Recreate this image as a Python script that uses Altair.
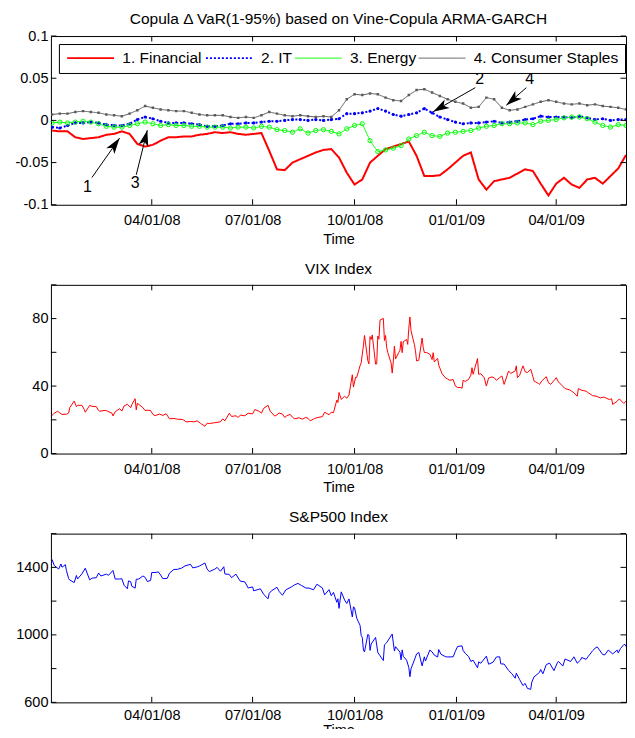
import altair as alt
import pandas as pd

FONT = "Liberation Sans"

# ---------------- top panel: weekly readings (Wednesdays from 2008-01-02) ----------------
series_names = ["1. Financial", "2. IT", "3. Energy", "4. Consumer Staples"]
series_colors = ["#ff0000", "#0000ff", "#00ff00", "#5a5a5a"]

financial = [-0.012, -0.013, -0.013, -0.020, -0.022, -0.021, -0.020, -0.017, -0.016, -0.013,
             -0.016, -0.028, -0.031, -0.029, -0.024, -0.020, -0.020, -0.019, -0.019, -0.017,
             -0.016, -0.014, -0.015, -0.014, -0.016, -0.017, -0.016, -0.015, -0.036, -0.058,
             -0.059, -0.050, -0.046, -0.042, -0.038, -0.035, -0.034, -0.044, -0.062, -0.076,
             -0.070, -0.050, -0.042, -0.034, -0.031, -0.028, -0.025, -0.042, -0.066, -0.066,
             -0.065, -0.058, -0.050, -0.042, -0.038, -0.070, -0.082, -0.072, -0.070, -0.068,
             -0.063, -0.058, -0.060, -0.075, -0.089, -0.075, -0.068, -0.076, -0.080, -0.070,
             -0.068, -0.075, -0.066, -0.057, -0.041]
it = [-0.008, -0.009, -0.006, -0.003, -0.003, -0.002, -0.003, -0.005, -0.006, -0.006,
      -0.004, 0.001, 0.004, 0.002, -0.001, -0.003, -0.003, -0.003, -0.004, -0.005,
      -0.007, -0.007, -0.006, -0.004, -0.004, -0.003, -0.003, -0.002, -0.001, -0.001,
      0.000, 0.001, 0.001, 0.000, 0.001, 0.000, 0.001, 0.002, 0.008, 0.008,
      0.009, 0.011, 0.014, 0.011, 0.007, 0.005, 0.007, 0.009, 0.014, 0.009,
      0.004, 0.001, -0.002, -0.004, -0.003, -0.003, -0.002, -0.001, -0.003, -0.002,
      -0.001, 0.001, 0.002, 0.005, 0.004, 0.004, 0.004, 0.003, 0.005, 0.003,
      0.001, 0.002, 0.000, 0.001, 0.001]
energy = [-0.003, -0.002, -0.003, -0.002, -0.001, -0.002, -0.004, -0.007, -0.008, -0.008,
          -0.006, -0.004, -0.002, -0.004, -0.006, -0.005, -0.006, -0.006, -0.007, -0.007,
          -0.008, -0.008, -0.008, -0.009, -0.008, -0.008, -0.009, -0.007, -0.008, -0.011,
          -0.012, -0.014, -0.010, -0.015, -0.012, -0.011, -0.013, -0.016, -0.010, -0.006,
          -0.004, -0.024, -0.037, -0.035, -0.033, -0.030, -0.022, -0.018, -0.014, -0.018,
          -0.019, -0.015, -0.014, -0.013, -0.012, -0.009, -0.007, -0.006, -0.004, -0.004,
          -0.003, -0.003, -0.005, -0.001, 0.000, 0.001, 0.003, 0.004, 0.004, 0.002,
          -0.002, -0.006, -0.008, -0.005, -0.006]
staples = [0.007, 0.008, 0.008, 0.010, 0.011, 0.010, 0.009, 0.007, 0.006, 0.005,
           0.008, 0.012, 0.017, 0.015, 0.013, 0.012, 0.011, 0.011, 0.009, 0.007,
           0.006, 0.006, 0.006, 0.004, 0.003, 0.004, 0.003, 0.006, 0.010, 0.008,
           0.006, 0.005, 0.006, 0.005, 0.004, 0.005, 0.004, 0.012, 0.025, 0.031,
           0.030, 0.032, 0.031, 0.027, 0.024, 0.023, 0.030, 0.036, 0.037, 0.033,
           0.029, 0.025, 0.022, 0.020, 0.015, 0.016, 0.027, 0.025, 0.015, 0.012,
           0.013, 0.016, 0.019, 0.022, 0.024, 0.022, 0.020, 0.019, 0.020, 0.018,
           0.019, 0.017, 0.016, 0.015, 0.013]

# ---------------- VIX close (date, value) ----------------
vix_points = [
    ("2008-01-02", 22.6), ("2008-01-04", 23.9), ("2008-01-07", 25.1), ("2008-01-09", 24.1),
    ("2008-01-11", 23.2), ("2008-01-15", 23.3), ("2008-01-17", 24.0), ("2008-01-18", 27.2),
    ("2008-01-22", 31.1), ("2008-01-24", 27.8), ("2008-01-25", 28.6), ("2008-01-29", 28.6),
    ("2008-01-31", 26.2), ("2008-02-01", 24.5), ("2008-02-05", 28.6), ("2008-02-07", 28.0),
    ("2008-02-11", 27.8), ("2008-02-13", 25.5), ("2008-02-14", 25.1), ("2008-02-19", 25.6),
    ("2008-02-21", 25.1), ("2008-02-25", 24.0), ("2008-02-26", 22.3), ("2008-02-28", 24.8),
    ("2008-03-03", 26.6), ("2008-03-05", 25.2), ("2008-03-07", 28.2), ("2008-03-10", 29.2),
    ("2008-03-13", 27.2), ("2008-03-14", 29.0), ("2008-03-17", 32.5), ("2008-03-18", 25.9),
    ("2008-03-19", 29.8), ("2008-03-24", 27.2), ("2008-03-26", 25.5), ("2008-03-28", 25.7),
    ("2008-03-31", 25.5), ("2008-04-02", 23.2), ("2008-04-04", 22.5), ("2008-04-08", 23.4),
    ("2008-04-11", 22.6), ("2008-04-14", 23.6), ("2008-04-17", 20.6), ("2008-04-21", 20.8),
    ("2008-04-24", 20.4), ("2008-04-29", 20.2), ("2008-05-02", 18.8), ("2008-05-06", 19.0),
    ("2008-05-09", 18.8), ("2008-05-12", 19.4), ("2008-05-15", 17.9), ("2008-05-19", 16.2),
    ("2008-05-21", 18.0), ("2008-05-23", 17.8), ("2008-05-28", 18.3), ("2008-06-02", 18.8),
    ("2008-06-04", 20.6), ("2008-06-06", 19.4), ("2008-06-10", 23.9), ("2008-06-12", 22.0),
    ("2008-06-16", 22.4), ("2008-06-18", 21.4), ("2008-06-20", 22.8), ("2008-06-24", 22.4),
    ("2008-06-27", 23.9), ("2008-07-01", 23.5), ("2008-07-03", 26.1), ("2008-07-07", 25.0),
    ("2008-07-09", 24.0), ("2008-07-11", 26.8), ("2008-07-15", 28.6), ("2008-07-17", 25.0),
    ("2008-07-21", 22.2), ("2008-07-23", 23.0), ("2008-07-25", 24.0), ("2008-07-28", 23.4),
    ("2008-07-30", 21.4), ("2008-08-01", 22.5), ("2008-08-04", 23.2), ("2008-08-06", 21.5),
    ("2008-08-08", 20.6), ("2008-08-12", 21.2), ("2008-08-15", 20.4), ("2008-08-18", 21.4),
    ("2008-08-20", 20.9), ("2008-08-22", 19.4), ("2008-08-26", 20.8), ("2008-08-29", 21.4),
    ("2008-09-02", 21.9), ("2008-09-04", 24.5), ("2008-09-08", 23.0), ("2008-09-10", 24.5),
    ("2008-09-12", 24.2), ("2008-09-15", 31.7), ("2008-09-16", 30.3), ("2008-09-17", 36.2),
    ("2008-09-19", 32.1), ("2008-09-22", 33.9), ("2008-09-24", 32.8), ("2008-09-26", 34.7),
    ("2008-09-29", 46.7), ("2008-09-30", 39.4), ("2008-10-02", 45.3), ("2008-10-03", 45.1),
    ("2008-10-06", 52.1), ("2008-10-07", 53.7), ("2008-10-09", 63.9), ("2008-10-10", 70.0),
    ("2008-10-13", 55.0), ("2008-10-14", 53.1), ("2008-10-15", 69.3), ("2008-10-16", 67.6),
    ("2008-10-17", 70.3), ("2008-10-20", 53.0), ("2008-10-21", 53.1), ("2008-10-22", 69.7),
    ("2008-10-23", 67.8), ("2008-10-24", 79.1), ("2008-10-27", 80.1), ("2008-10-28", 67.0),
    ("2008-10-29", 70.0), ("2008-10-30", 62.9), ("2008-10-31", 59.9), ("2008-11-03", 53.7),
    ("2008-11-04", 47.7), ("2008-11-05", 54.6), ("2008-11-06", 63.7), ("2008-11-07", 56.1),
    ("2008-11-10", 60.0), ("2008-11-11", 61.2), ("2008-11-12", 66.5), ("2008-11-13", 59.8),
    ("2008-11-14", 66.3), ("2008-11-17", 67.6), ("2008-11-18", 64.7), ("2008-11-19", 74.3),
    ("2008-11-20", 80.9), ("2008-11-21", 72.7), ("2008-11-24", 64.7), ("2008-11-25", 60.9),
    ("2008-11-26", 54.9), ("2008-11-28", 55.3), ("2008-12-01", 68.5), ("2008-12-02", 62.9),
    ("2008-12-03", 59.9), ("2008-12-05", 59.9), ("2008-12-08", 58.9), ("2008-12-10", 55.7),
    ("2008-12-11", 59.8), ("2008-12-12", 54.3), ("2008-12-15", 56.4), ("2008-12-16", 52.4),
    ("2008-12-19", 47.3), ("2008-12-22", 44.9), ("2008-12-24", 44.2), ("2008-12-26", 43.4),
    ("2008-12-29", 43.9), ("2008-12-31", 40.0),
    ("2009-01-02", 39.2), ("2009-01-05", 39.1), ("2009-01-06", 38.6), ("2009-01-07", 43.4),
    ("2009-01-09", 42.8), ("2009-01-12", 44.0), ("2009-01-14", 46.5), ("2009-01-15", 50.9),
    ("2009-01-16", 47.0), ("2009-01-20", 56.3), ("2009-01-21", 47.0), ("2009-01-23", 47.3),
    ("2009-01-26", 45.0), ("2009-01-28", 40.0), ("2009-01-30", 44.8), ("2009-02-02", 45.4),
    ("2009-02-04", 45.0), ("2009-02-06", 43.4), ("2009-02-09", 45.0), ("2009-02-11", 46.0),
    ("2009-02-13", 41.0), ("2009-02-17", 48.9), ("2009-02-19", 47.5), ("2009-02-23", 49.0),
    ("2009-02-24", 52.0), ("2009-02-25", 45.0), ("2009-02-27", 46.4), ("2009-03-02", 52.0),
    ("2009-03-04", 48.5), ("2009-03-06", 48.0), ("2009-03-09", 50.0), ("2009-03-11", 45.5),
    ("2009-03-12", 43.0), ("2009-03-16", 41.5), ("2009-03-17", 41.0), ("2009-03-19", 43.0),
    ("2009-03-23", 45.6), ("2009-03-25", 42.0), ("2009-03-27", 41.0), ("2009-03-31", 44.0),
    ("2009-04-01", 45.0), ("2009-04-03", 42.5), ("2009-04-06", 40.5), ("2009-04-09", 38.5),
    ("2009-04-13", 37.8), ("2009-04-15", 37.0), ("2009-04-17", 36.0), ("2009-04-20", 34.0),
    ("2009-04-21", 38.5), ("2009-04-24", 37.5), ("2009-04-28", 37.0), ("2009-04-30", 36.0),
    ("2009-05-04", 34.3), ("2009-05-07", 34.0), ("2009-05-11", 33.0), ("2009-05-14", 33.5),
    ("2009-05-19", 32.0), ("2009-05-21", 32.5), ("2009-05-22", 29.1), ("2009-05-26", 31.0),
    ("2009-05-28", 32.4), ("2009-06-01", 29.7), ("2009-06-03", 31.0),
]

# ---------------- S&P500 close (date, value) ----------------
spx_points = [
    ("2008-01-02", 1447), ("2008-01-04", 1411), ("2008-01-08", 1390), ("2008-01-10", 1420),
    ("2008-01-11", 1401), ("2008-01-14", 1416), ("2008-01-15", 1381), ("2008-01-17", 1333),
    ("2008-01-18", 1325), ("2008-01-22", 1310), ("2008-01-24", 1352), ("2008-01-25", 1331),
    ("2008-01-29", 1362), ("2008-02-01", 1395), ("2008-02-05", 1326), ("2008-02-07", 1336),
    ("2008-02-11", 1339), ("2008-02-13", 1367), ("2008-02-15", 1349), ("2008-02-20", 1360),
    ("2008-02-22", 1353), ("2008-02-26", 1382), ("2008-02-28", 1331), ("2008-03-03", 1331),
    ("2008-03-05", 1333), ("2008-03-07", 1294), ("2008-03-10", 1273), ("2008-03-11", 1320),
    ("2008-03-13", 1315), ("2008-03-14", 1288), ("2008-03-17", 1277), ("2008-03-18", 1330),
    ("2008-03-20", 1330), ("2008-03-24", 1349), ("2008-03-26", 1341), ("2008-03-28", 1316),
    ("2008-03-31", 1323), ("2008-04-01", 1370), ("2008-04-03", 1369), ("2008-04-07", 1373),
    ("2008-04-09", 1355), ("2008-04-11", 1333), ("2008-04-15", 1335), ("2008-04-17", 1366),
    ("2008-04-21", 1388), ("2008-04-24", 1388), ("2008-04-28", 1396), ("2008-05-01", 1409),
    ("2008-05-06", 1418), ("2008-05-08", 1397), ("2008-05-12", 1403), ("2008-05-14", 1408),
    ("2008-05-19", 1426), ("2008-05-21", 1390), ("2008-05-23", 1375), ("2008-05-28", 1390),
    ("2008-05-30", 1400), ("2008-06-02", 1377), ("2008-06-05", 1404), ("2008-06-06", 1361),
    ("2008-06-10", 1358), ("2008-06-12", 1339), ("2008-06-16", 1360), ("2008-06-18", 1337),
    ("2008-06-20", 1318), ("2008-06-24", 1314), ("2008-06-27", 1278), ("2008-07-01", 1284),
    ("2008-07-02", 1261), ("2008-07-08", 1273), ("2008-07-11", 1240), ("2008-07-15", 1214),
    ("2008-07-16", 1246), ("2008-07-18", 1261), ("2008-07-23", 1282), ("2008-07-25", 1257),
    ("2008-07-28", 1235), ("2008-07-31", 1267), ("2008-08-05", 1284), ("2008-08-08", 1297),
    ("2008-08-11", 1305), ("2008-08-14", 1293), ("2008-08-18", 1278), ("2008-08-21", 1277),
    ("2008-08-25", 1267), ("2008-08-28", 1300), ("2008-09-02", 1278), ("2008-09-04", 1237),
    ("2008-09-08", 1268), ("2008-09-10", 1232), ("2008-09-12", 1252), ("2008-09-15", 1193),
    ("2008-09-16", 1214), ("2008-09-17", 1157), ("2008-09-19", 1255), ("2008-09-22", 1207),
    ("2008-09-24", 1186), ("2008-09-26", 1213), ("2008-09-29", 1106), ("2008-09-30", 1166),
    ("2008-10-01", 1161), ("2008-10-03", 1099), ("2008-10-06", 1056), ("2008-10-07", 996),
    ("2008-10-08", 985), ("2008-10-09", 910), ("2008-10-10", 899), ("2008-10-13", 1003),
    ("2008-10-14", 998), ("2008-10-15", 908), ("2008-10-16", 946), ("2008-10-20", 985),
    ("2008-10-22", 896), ("2008-10-24", 876), ("2008-10-27", 848), ("2008-10-28", 941),
    ("2008-10-30", 954), ("2008-11-04", 1005), ("2008-11-05", 952), ("2008-11-06", 904),
    ("2008-11-07", 930), ("2008-11-11", 898), ("2008-11-12", 852), ("2008-11-13", 911),
    ("2008-11-14", 873), ("2008-11-17", 850), ("2008-11-19", 806), ("2008-11-20", 752),
    ("2008-11-21", 800), ("2008-11-24", 851), ("2008-11-26", 887), ("2008-11-28", 896),
    ("2008-12-01", 816), ("2008-12-03", 870), ("2008-12-04", 845), ("2008-12-08", 910),
    ("2008-12-10", 899), ("2008-12-12", 880), ("2008-12-15", 869), ("2008-12-16", 913),
    ("2008-12-18", 885), ("2008-12-22", 871), ("2008-12-24", 869), ("2008-12-29", 870),
    ("2008-12-31", 903),
    ("2009-01-02", 931), ("2009-01-06", 935), ("2009-01-07", 907), ("2009-01-09", 890),
    ("2009-01-12", 871), ("2009-01-14", 842), ("2009-01-16", 850), ("2009-01-20", 805),
    ("2009-01-21", 840), ("2009-01-23", 832), ("2009-01-28", 874), ("2009-01-30", 826),
    ("2009-02-03", 838), ("2009-02-06", 869), ("2009-02-09", 870), ("2009-02-10", 828),
    ("2009-02-13", 827), ("2009-02-17", 789), ("2009-02-20", 770), ("2009-02-23", 743),
    ("2009-02-24", 773), ("2009-02-27", 735), ("2009-03-02", 700), ("2009-03-04", 712),
    ("2009-03-06", 683), ("2009-03-09", 677), ("2009-03-10", 720), ("2009-03-12", 751),
    ("2009-03-17", 778), ("2009-03-18", 795), ("2009-03-20", 769), ("2009-03-23", 823),
    ("2009-03-26", 833), ("2009-03-30", 788), ("2009-04-02", 834), ("2009-04-03", 843),
    ("2009-04-07", 815), ("2009-04-09", 857), ("2009-04-14", 842), ("2009-04-17", 870),
    ("2009-04-20", 832), ("2009-04-23", 851), ("2009-04-24", 866), ("2009-04-28", 855),
    ("2009-04-30", 873), ("2009-05-04", 907), ("2009-05-06", 920), ("2009-05-08", 929),
    ("2009-05-13", 883), ("2009-05-15", 882), ("2009-05-18", 910), ("2009-05-22", 887),
    ("2009-05-26", 910), ("2009-05-27", 893), ("2009-05-29", 919), ("2009-06-01", 942),
    ("2009-06-02", 944), ("2009-06-03", 931),
]

# ---------------- annotations (arrow tip, arrow tail, label position) ----------------
arrow_labels = ["1", "3", "2", "4"]
arrow_tip_dates = ["2008-03-03", "2008-03-28", "2008-12-11", "2009-02-15"]
arrow_tip_values = [-0.021, -0.0116, 0.0104, 0.018]
arrow_tail_dates = ["2008-02-07", "2008-03-18", "2009-01-18", "2009-03-05"]
arrow_tail_values = [-0.0677, -0.0645, 0.0388, 0.0388]
label_dates = ["2008-02-03", "2008-03-17", "2009-01-22", "2009-03-08"]
label_values = [-0.0795, -0.0748, 0.0487, 0.0487]
arrow_angles = [35.7, 14.2, 240.4, 229.6]   # style: head rotation (deg, clockwise)

x_tick_dates = ["2008-04-01", "2008-07-01", "2008-10-01", "2009-01-01", "2009-04-01"]
top_yticks = [-0.1, -0.05, 0, 0.05, 0.1]
vix_yticks = [0, 20, 40, 60, 80, 100]
spx_yticks = [600, 800, 1000, 1200, 1400, 1600]

# ---------------- build tables ----------------
top_dates = pd.date_range("2008-01-02", periods=len(financial), freq="7D").strftime("%Y-%m-%d").tolist()
top_df = pd.concat([
    pd.DataFrame({"date": top_dates, "series": name, "value": vals})
    for name, vals in zip(series_names, [financial, it, energy, staples])
], ignore_index=True)
vix_df = pd.DataFrame(vix_points, columns=["date", "value"])
spx_df = pd.DataFrame(spx_points, columns=["date", "value"])
ann_df = pd.DataFrame({
    "date": arrow_tip_dates, "value": arrow_tip_values,
    "date2": arrow_tail_dates, "value2": arrow_tail_values,
    "ldate": label_dates, "lvalue": label_values,
    "label": arrow_labels, "angle": arrow_angles,
})
xtick_df = pd.DataFrame({"date": x_tick_dates})

W, H = 576, 169
TL = 5.5


def dt(s):
    t = pd.Timestamp(s)
    return alt.DateTime(year=t.year, month=t.month, date=t.day, utc=True)


xscale = alt.Scale(type="utc", domain=[dt("2008-01-01"), dt("2009-06-03")])


def x_axis(label_pad=8.5, title_pad=5.5):
    return alt.Axis(values=[dt(d) for d in x_tick_dates], format="%m/%d/%y", title="Time",
                    ticks=False, domain=False, grid=False, labelFont=FONT, labelFontSize=14.5,
                    labelColor="black", labelPadding=label_pad, labelFlush=False, labelOverlap=False,
                    titleFont=FONT, titleFontSize=14.5, titleFontWeight="normal",
                    titleColor="black", titlePadding=title_pad)


def y_axis(values, label_expr=None):
    kw = dict(values=values, title=None, ticks=False, domain=False, grid=False,
              labelFont=FONT, labelFontSize=14.5, labelColor="black", labelPadding=3,
              labelOverlap=False, labelFlush=False, minExtent=42.5, maxExtent=42.5)
    if label_expr:
        kw["labelExpr"] = label_expr
    else:
        kw["format"] = "d"
    return alt.Axis(**kw)


def frame_ticks(yvals):
    ydf = pd.DataFrame({"value": yvals})
    rule = dict(color="black", strokeWidth=1)
    return [
        alt.Chart(xtick_df).mark_rule(**rule).encode(x="date:T", y=alt.value(0), y2=alt.value(TL)),
        alt.Chart(xtick_df).mark_rule(**rule).encode(x="date:T", y=alt.value(H), y2=alt.value(H - TL)),
        alt.Chart(ydf).mark_rule(**rule).encode(y="value:Q", x=alt.value(0), x2=alt.value(TL)),
        alt.Chart(ydf).mark_rule(**rule).encode(y="value:Q", x=alt.value(W), x2=alt.value(W - TL)),
    ]


def panel_title(text, offset):
    return alt.TitleParams(text, font=FONT, fontSize=15.5, fontWeight="normal", color="black",
                           anchor="middle", offset=offset)


legend = alt.Legend(title=None, orient="none", legendX=8, legendY=8, direction="horizontal",
                    columns=4, symbolType="M-4.7,0L4.7,0", symbolSize=100, symbolOffset=18,
                    symbolStrokeWidth=alt.ExprRef("indexof(['1. Financial','2. IT'], datum.value) >= 0 ? 2 : 1"),
                    labelFont=FONT, labelFontSize=15.5, labelColor="black", labelOffset=24,
                    columnPadding=0, padding=6, strokeColor="black", fillColor="white",
                    labelLimit=400)

top_lines = alt.Chart(top_df).mark_line(clip=True).encode(
    x=alt.X("date:T", scale=xscale, axis=x_axis()),
    y=alt.Y("value:Q", scale=alt.Scale(domain=[-0.1, 0.1], nice=False, zero=False),
            axis=y_axis(top_yticks, "datum.value < 0 ? '-' + format(-datum.value, '~g') : format(datum.value, '~g')")),
    color=alt.Color("series:N", scale=alt.Scale(domain=series_names, range=series_colors), legend=legend),
    strokeDash=alt.StrokeDash("series:N", scale=alt.Scale(domain=series_names, range=[[1, 0], [2, 2], [1, 0], [1, 0]]), legend=legend),
    strokeWidth=alt.StrokeWidth("series:N", scale=alt.Scale(type="ordinal", domain=series_names, range=[2, 2, 1, 1]), legend=None),
)
it_pts = alt.Chart(top_df).transform_filter(alt.datum.series == "2. IT").mark_point(
    filled=True, size=10, color="#0000ff", opacity=1, clip=True).encode(x="date:T", y="value:Q")
en_pts = alt.Chart(top_df).transform_filter(alt.datum.series == "3. Energy").mark_point(
    filled=False, size=18, color="#00ff00", strokeWidth=1, opacity=1, clip=True).encode(x="date:T", y="value:Q")
cs_pts = alt.Chart(top_df).transform_filter(alt.datum.series == "4. Consumer Staples").mark_square(
    size=6, color="#5a5a5a", opacity=1, clip=True).encode(x="date:T", y="value:Q")

arrow_shafts = alt.Chart(ann_df).mark_rule(color="black", strokeWidth=1).encode(
    x="date:T", y="value:Q", x2="date2:T", y2="value2:Q")
arrow_heads = alt.Chart(ann_df).mark_point(
    shape="M0,0L0.5,1.6L0,1.2L-0.5,1.6Z", filled=True, size=400, color="black", opacity=1,
    strokeWidth=0).encode(x="date:T", y="value:Q", angle=alt.Angle("angle:Q", scale=None))
arrow_text = alt.Chart(ann_df).mark_text(font=FONT, fontSize=16, color="black", baseline="middle",
                                         align="center").encode(
    x="ldate:T", y="lvalue:Q", text="label:N")

top = alt.layer(top_lines, it_pts, en_pts, cs_pts, arrow_shafts, arrow_heads, arrow_text,
                *frame_ticks(top_yticks)).properties(
    width=W, height=H, title=panel_title("Copula \u0394 VaR(1-95%) based on Vine-Copula ARMA-GARCH", 0.6))

vix_line = alt.Chart(vix_df).mark_line(color="#ff0000", strokeWidth=1, clip=True).encode(
    x=alt.X("date:T", scale=xscale, axis=x_axis()),
    y=alt.Y("value:Q", scale=alt.Scale(domain=[0, 100], nice=False), axis=y_axis(vix_yticks)),
)
vix = alt.layer(vix_line, *frame_ticks(vix_yticks)).properties(
    width=W, height=H, title=panel_title("VIX Index", 7.3))

spx_line = alt.Chart(spx_df).mark_line(color="#0000ff", strokeWidth=1, clip=True).encode(
    x=alt.X("date:T", scale=xscale, axis=x_axis(6.5, 1)),
    y=alt.Y("value:Q", scale=alt.Scale(domain=[600, 1600], nice=False, zero=False), axis=y_axis(spx_yticks)),
)
spx = alt.layer(spx_line, *frame_ticks(spx_yticks)).properties(
    width=W, height=H, title=panel_title("S&P500 Index", 7.3))

chart = alt.vconcat(top, vix, spx, spacing=14.2).properties(
    padding={"left": 0, "top": 2.5, "right": 0, "bottom": -9.5}, background="white"
).configure_view(stroke="black", strokeWidth=1)

chart.save("out.html", embed_options={"renderer": "svg", "actions": False})
